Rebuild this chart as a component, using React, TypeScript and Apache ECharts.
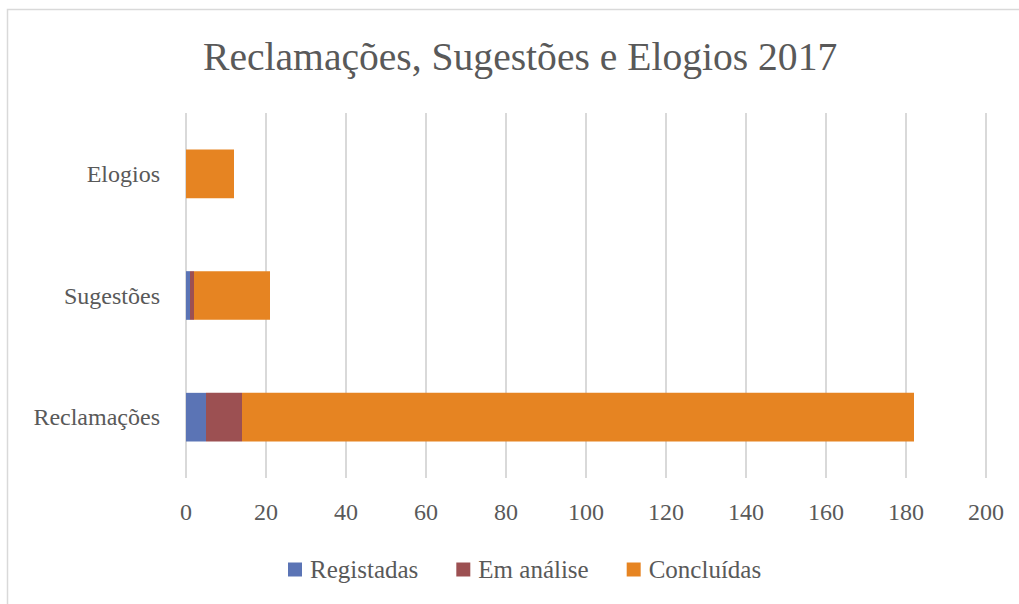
import React, { useEffect, useRef } from "react";
import * as echarts from "echarts";

const categories = ["Reclamações", "Sugestões", "Elogios"];
const registadas = [5, 1, 0];
const emAnalise = [9, 1, 0];
const concluidas = [168, 19, 12];
const seriesNames = ["Registadas", "Em análise", "Concluídas"];
const colors = ["#5B74B5", "#9C5052", "#E68422"];
const FONT = "'Liberation Serif', serif";

export default function App() {
  const ref = useRef<HTMLDivElement>(null);
  useEffect(() => {
    if (!ref.current) return;
    const chart = echarts.init(ref.current, null, { renderer: "svg" });
    const data = [registadas, emAnalise, concluidas];
    chart.setOption({
      animation: false,
      backgroundColor: "#ffffff",
      textStyle: { fontFamily: FONT },
      title: {
        text: "Reclamações, Sugestões e Elogios 2017",
        left: 198,
        top: 32,
        textStyle: { fontFamily: FONT, fontSize: 39.6, fontWeight: "normal", color: "#595959" },
      },
      graphic: [
        {
          type: "rect",
          shape: { x: 7.5, y: 9.5, width: 1100, height: 700 },
          style: { fill: "none", stroke: "#d9d9d9", lineWidth: 1.5 },
          silent: true,
        },
      ],
      legend: {
        top: 552,
        left: 283,
        itemWidth: 14,
        itemHeight: 14,
        itemGap: 38,
        icon: "rect",
        textStyle: { fontFamily: FONT, fontSize: 25, color: "#595959", padding: [0, 0, 0, 3] },
        data: seriesNames,
      },
      grid: { left: 186, right: 33, top: 113, bottom: 126 },
      xAxis: {
        type: "value",
        min: 0,
        max: 200,
        interval: 20,
        axisLine: { show: false },
        axisTick: { show: false },
        axisLabel: { fontFamily: FONT, fontSize: 24, color: "#595959", margin: 22 },
        splitLine: { lineStyle: { color: "#d9d9d9", width: 2 } },
      },
      yAxis: {
        type: "category",
        data: categories,
        axisLine: { show: false },
        axisTick: { show: false },
        axisLabel: { fontFamily: FONT, fontSize: 24, color: "#595959", margin: 26 },
      },
      series: seriesNames.map((name, i) => ({
        name,
        type: "bar",
        stack: "total",
        barCategoryGap: "60%",
        itemStyle: { color: colors[i] },
        data: data[i],
      })),
    });
    return () => chart.dispose();
  }, []);
  return (
    <div
      ref={ref}
      style={{ position: "fixed", left: 0, top: 0, width: 1019, height: 604 }}
    />
  );
}
